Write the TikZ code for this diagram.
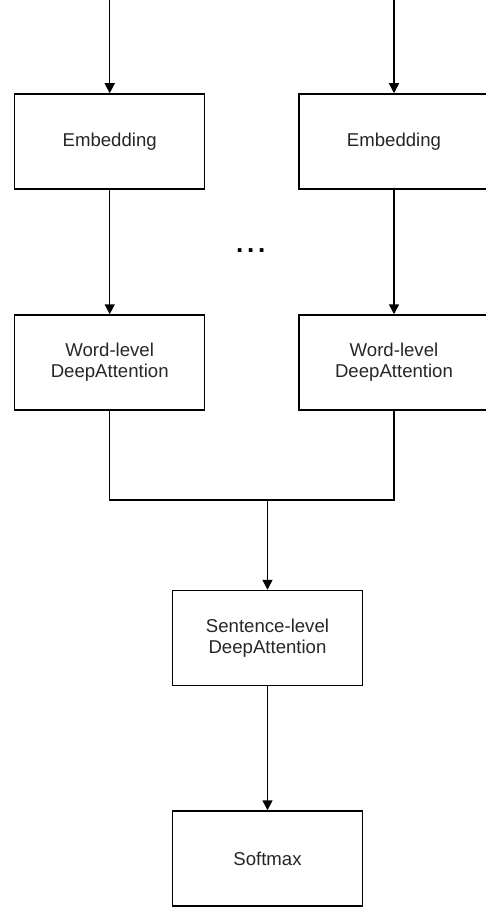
\documentclass[tikz,border=0pt]{standalone}
\usepackage{fontspec}
\setmainfont{Liberation Sans}
\usetikzlibrary{arrows.meta}
\begin{document}
\begin{tikzpicture}[x=1pt,y=-1pt,
  box/.style={draw=black, line width=1.5pt, minimum width=190pt, minimum height=95pt,
    inner sep=0pt, align=center, font=\fontsize{18.6}{21}\selectfont, text=black!85},
  conn/.style={draw=black, line width=1.5pt},
  arr/.style={conn, -{Triangle[length=10pt,width=10pt]}}]
\useasboundingbox (0,0) rectangle (485,909);
\node[box] (e1) at (109.7,141.5) {Embedding};
\node[box] (e2) at (394,141.5) {Embedding};
\node[box] (w1) at (109.7,362.5) {Word-level\\DeepAttention};
\node[box] (w2) at (394,362.5) {Word-level\\DeepAttention};
\node[box] (s) at (267.5,638) {Sentence-level\\DeepAttention};
\node[box] (sm) at (267.5,858.5) {Softmax};
\node[inner sep=0pt, font=\fontsize{26}{30}\selectfont\bfseries] (dots) at (250.7,251) {.\kern3.8pt.\kern3.8pt.};
\coordinate (t1) at (109.7,0);
\coordinate (t2) at (394,0);
\coordinate (j) at (267.5,500);
\draw[arr] (t1) -- (e1.north);
\draw[arr] (t2) -- (e2.north);
\draw[arr] (e1.south) -- (w1.north);
\draw[arr] (e2.south) -- (w2.north);
\draw[conn] (w1.south) |- (j) -| (w2.south);
\draw[arr] (j) -- (s.north);
\draw[arr] (s.south) -- (sm.north);
\end{tikzpicture}
\end{document}
